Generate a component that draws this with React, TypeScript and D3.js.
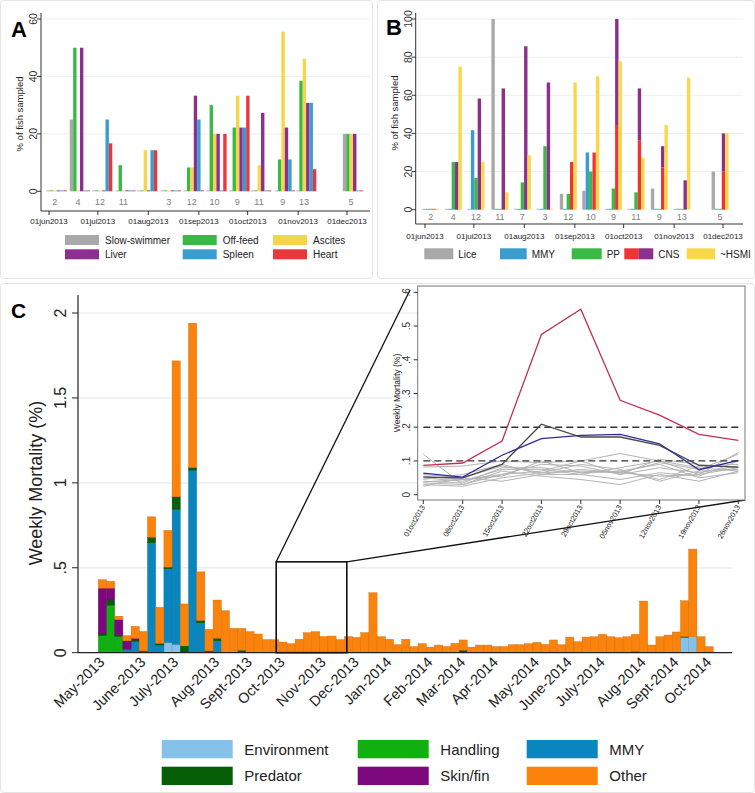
import React from 'react';
import * as d3 from 'd3';

const FONT = '"Liberation Sans", Arial, Helvetica, sans-serif';

// ---------- Panel A ----------
const aSeries = ['Slow-swimmer', 'Off-feed', 'Ascites', 'Liver', 'Spleen', 'Heart'];
const aColors = ['#a9a9a9', '#3cb846', '#f5d64a', '#8c2f8e', '#3a9dcf', '#e8383d'];
const aDays = [4.7, 19, 32.6, 46.9, 60.2, 74.8, 88.9, 102.8, 116.9, 130.2, 144.8, 157.9, 186.7];
const aCounts = ['2', '4', '12', '11', '', '3', '12', '10', '9', '11', '9', '13', '5'];
const aSlow = [0, 25, 0, 0, 0, 0, 0, 0, 0, 0, 0, 0, 20];
const aOff = [0, 50, 0, 9.1, 0, 0, 8.3, 30, 22.2, 0, 11.1, 38.5, 20];
const aAsc = [0, 0, 0, 0, 14.3, 0, 8.3, 20, 33.3, 9.1, 55.6, 46.2, 20];
const aLiver = [0, 50, 0, 0, 0, 0, 33.3, 20, 22.2, 27.3, 22.2, 30.8, 20];
const aSpleen = [0, 0, 25, 0, 14.3, 0, 25, 0, 22.2, 0, 11.1, 30.8, 0];
const aHeart = [0, 0, 16.7, 0, 14.3, 0, 0, 20, 33.3, 0, 0, 7.7, 0];

// ---------- Panel B ----------
const bDays = [3.5, 17.4, 31.3, 46, 59.8, 73.7, 88, 101.8, 115.7, 129.6, 143.9, 157.7, 181.2];
const bCounts = ['2', '4', '12', '11', '7', '3', '12', '10', '9', '11', '9', '13', '5'];
const bLice = [0, 0, 0, 100, 0, 0, 8.3, 10, 0, 0, 11.1, 0, 20];
const bMMY = [0, 0, 41.7, 0, 0, 0, 0, 30, 0, 0, 0, 0, 0];
const bPP = [0, 25, 16.7, 0, 14.3, 33.3, 8.3, 20, 11.1, 9.1, 0, 0, 0];
const bCNSred = [0, 0, 0, 0, 0, 0, 25, 30, 44.4, 36.4, 22.2, 0, 20];
const bCNStotal = [0, 25, 58.3, 63.6, 85.7, 66.7, 25, 30, 100, 63.6, 33.3, 15.4, 40];
const bHSMI = [0, 75, 25, 9.1, 28.6, 0, 66.7, 70, 77.8, 27.3, 44.4, 69.2, 40];
const bColors = { lice: '#a9a9a9', mmy: '#3a9dcf', pp: '#3cb846', cnsRed: '#ee3434', cnsPurple: '#8c2f8e', hsmi: '#f8d84a' };

const monthDays = [0, 30, 61, 92, 122, 153, 183];
const monthLabels = ['01jun2013', '01jul2013', '01aug2013', '01sep2013', '01oct2013', '01nov2013', '01dec2013'];

// ---------- Panel C ----------
const cKeys = ['Environment', 'Handling', 'MMY', 'Predator', 'Skin/fin', 'Other'];
const cColors = ['#86c1ea', '#10b010', '#0a86bf', '#065f06', '#7d087d', '#fb830b'];
const envVals = [0,0,0,0,0,0,0,0,0.06,0.05,0,0,0,0,0,0,0,0,0,0,0,0,0,0,0,0,0,0,0,0,0,0,0,0,0,0,0,0,0,0,0,0,0,0,0,0,0,0,0,0,0,0,0,0,0,0,0,0,0,0,0,0,0,0,0,0,0,0,0,0,0,0.09,0.094,0,0];
const handVals = [0.10,0.28,0.095,0,0,0,0,0,0,0,0,0,0,0,0,0,0,0,0,0,0,0,0,0,0,0,0,0,0,0,0,0,0,0,0,0,0,0,0,0,0,0,0,0,0,0,0,0,0,0,0,0,0,0,0,0,0,0,0,0,0,0,0,0,0,0,0,0,0,0,0,0,0,0,0];
const mmyVals = [0,0,0,0.02,0.065,0,0.647,0.045,0.434,0.793,0,1.075,0.176,0,0.07,0,0,0.005,0,0,0,0,0,0,0,0,0,0,0,0,0,0,0,0,0,0,0,0,0,0,0,0,0,0,0,0,0,0,0,0,0,0,0,0,0,0,0,0,0,0,0,0,0,0,0,0,0,0,0,0,0,0,0,0,0];
const predVals = [0.01,0.03,0.01,0,0.01,0.01,0.033,0.01,0.01,0.075,0.04,0.015,0.014,0.01,0.015,0,0,0.01,0,0,0,0,0,0,0,0,0,0,0,0,0,0,0,0,0,0,0,0,0,0,0,0,0,0,0.015,0,0,0,0,0,0,0,0,0,0,0.005,0,0,0,0,0,0,0,0,0,0.008,0,0,0,0,0,0.005,0,0,0];
const skinVals = [0.27,0.07,0.09,0.05,0.01,0,0,0,0,0,0,0,0,0,0,0,0,0,0,0,0,0,0,0,0,0,0,0,0,0,0,0,0,0,0,0,0,0,0,0,0,0,0,0,0,0,0,0,0,0,0,0,0,0,0,0,0,0,0,0,0,0,0,0,0,0,0,0,0,0,0,0,0,0,0];
const otherVals = [0.05,0.04,0.02,0.03,0.07,0.115,0.12,0.212,0.216,0.80,0.247,0.85,0.286,0.127,0.225,0.247,0.143,0.128,0.124,0.11,0.077,0.077,0.063,0.053,0.079,0.118,0.124,0.095,0.098,0.077,0.095,0.09,0.118,0.353,0.094,0.079,0.047,0.079,0.036,0.053,0.033,0.045,0.036,0.055,0.06,0.033,0.045,0.045,0.036,0.036,0.047,0.047,0.053,0.061,0.049,0.07,0.047,0.092,0.065,0.092,0.094,0.108,0.094,0.088,0.094,0.1,0.304,0.045,0.094,0.104,0.122,0.211,0.516,0.094,0.036];
const cTickIdx = [0, 5, 9, 14, 18, 22, 27, 31, 35, 40, 44, 48, 53, 57, 61, 66, 70, 74];
const cTickLabels = ['May-2013', 'June-2013', 'July-2013', 'Aug-2013', 'Sept-2013', 'Oct-2013', 'Nov-2013', 'Dec-2013', 'Jan-2014', 'Feb-2014', 'Mar-2014', 'Apr-2014', 'May-2014', 'June-2014', 'July-2014', 'Aug-2014', 'Sept-2014', 'Oct-2014'];
const cYTicks = [0, 0.5, 1, 1.5, 2];
const cYLabels = ['0', '.5', '1', '1.5', '2'];
const zoomStart = 22, zoomEnd = 29;

// ---------- Inset ----------
const insetDates = ['01oct2013', '08oct2013', '15oct2013', '22oct2013', '29oct2013', '05nov2013', '12nov2013', '19nov2013', '26nov2013'];
const insetRed = [0.087, 0.094, 0.159, 0.475, 0.55, 0.28, 0.236, 0.179, 0.161];
const insetBlue = [0.064, 0.052, 0.117, 0.166, 0.176, 0.179, 0.151, 0.074, 0.102];
const insetDark = [0.052, 0.05, 0.09, 0.209, 0.171, 0.171, 0.146, 0.087, 0.082];
const insetGrey = [
  [0.12, 0.03, 0.06, 0.07, 0.10, 0.122, 0.10, 0.06, 0.125],
  [0.082, 0.085, 0.10, 0.095, 0.10, 0.06, 0.105, 0.09, 0.08],
  [0.045, 0.06, 0.09, 0.06, 0.075, 0.065, 0.095, 0.075, 0.12],
  [0.04, 0.035, 0.08, 0.08, 0.065, 0.07, 0.045, 0.085, 0.09],
  [0.035, 0.03, 0.07, 0.055, 0.045, 0.03, 0.06, 0.04, 0.07],
  [0.03, 0.025, 0.05, 0.065, 0.09, 0.075, 0.04, 0.07, 0.075],
  [0.055, 0.045, 0.06, 0.09, 0.085, 0.06, 0.08, 0.065, 0.085],
  [0.05, 0.04, 0.075, 0.075, 0.06, 0.08, 0.1, 0.08, 0.07],
  [0.025, 0.05, 0.04, 0.06, 0.06, 0.045, 0.065, 0.055, 0.1],
  [0.038, 0.045, 0.055, 0.1, 0.065, 0.07, 0.09, 0.05, 0.065],
  [0.06, 0.05, 0.085, 0.065, 0.07, 0.065, 0.055, 0.06, 0.08],
];
const insetYTicks = [0, 0.1, 0.2, 0.3, 0.4, 0.5, 0.6];
const insetYLabels = ['0', '.1', '.2', '.3', '.4', '.5', '.6'];
const insetRefLines = [0.1, 0.2];

function PanelA() {
  const x = d3.scaleLinear().domain([0, 183]).range([49, 347]);
  const y = d3.scaleLinear().domain([0, 60]).range([191.3, 19]);
  const bw = 3.4;
  const vals = [aSlow, aOff, aAsc, aLiver, aSpleen, aHeart];
  const axisY = 211;
  const left = 41, right = 370;
  return (
    <g>
      <rect x={0.5} y={0.5} width={372} height={278} fill="white" stroke="#e4e4e4" rx={3} />
      {[20, 40, 60].map(t => <line key={t} x1={left} x2={right} y1={y(t)} y2={y(t)} stroke="#eaf0f1" strokeWidth={1} />)}
      {aDays.map((d, g) => vals.map((arr, k) => {
        const v = arr[g];
        const bx = x(d) - 3 * bw + k * bw;
        const h = Math.max(y(0) - y(v), 0.9);
        return <rect key={g + '-' + k} x={bx} y={y(0) - h} width={bw} height={h} fill={aColors[k]} />;
      }))}
      <line x1={left} x2={left} y1={13} y2={axisY} stroke="#333" />
      <line x1={left} x2={right} y1={axisY} y2={axisY} stroke="#333" />
      {[0, 20, 40, 60].map(t => (
        <g key={t}>
          <line x1={left - 4} x2={left} y1={y(t)} y2={y(t)} stroke="#333" />
          <text transform={`translate(37,${y(t)}) rotate(-90)`} textAnchor="middle" fontSize={10.5} fill="#333">{t}</text>
        </g>
      ))}
      <text transform={`translate(23,114) rotate(-90)`} textAnchor="middle" fontSize={9.5} fill="#222">% of fish sampled</text>
      {monthDays.map((d, i) => (
        <g key={i}>
          <line x1={x(d)} x2={x(d)} y1={axisY} y2={axisY + 4} stroke="#333" />
          <text x={x(d)} y={224} textAnchor="middle" fontSize={8} fill="#222">{monthLabels[i]}</text>
        </g>
      ))}
      {aDays.map((d, g) => <text key={g} x={x(d) - 2} y={204.5} textAnchor="middle" fontSize={9} fill="#808080">{aCounts[g]}</text>)}
      <text x={11} y={37} fontSize={22} fontWeight="bold" fill="#000">A</text>
      {aSeries.map((s, i) => {
        const col = i % 3, row = Math.floor(i / 3);
        const sx = [65, 182.7, 273][col];
        const sy = 235 + row * 14.3;
        return (
          <g key={s}>
            <rect x={sx} y={sy} width={34} height={10} fill={aColors[i]} />
            <text x={sx + 40} y={sy + 9} fontSize={10} fill="#222">{s}</text>
          </g>
        );
      })}
    </g>
  );
}

function PanelB() {
  const x = d3.scaleLinear().domain([0, 183]).range([425, 723]);
  const y = d3.scaleLinear().domain([0, 100]).range([209.7, 19]);
  const bw = 3.4;
  const axisY = 224;
  const left = 415.7, right = 743;
  const bar = (key: string, bx: number, v0: number, v1: number, color: string, stub = true) => {
    const h = Math.max(y(v0) - y(v1), stub ? 0.9 : 0);
    return <rect key={key} x={bx} y={y(v0) - h} width={bw} height={h} fill={color} />;
  };
  const legend = [
    { label: 'Lice', x: 424.3, w: 29, colors: [bColors.lice] },
    { label: 'MMY', x: 500, w: 26.7, colors: [bColors.mmy] },
    { label: 'PP', x: 571.7, w: 30, colors: [bColors.pp] },
    { label: 'CNS', x: 624.3, w: 29, colors: [bColors.cnsRed, bColors.cnsPurple] },
    { label: '~HSMI', x: 686.7, w: 28.3, colors: [bColors.hsmi] },
  ];
  return (
    <g>
      <rect x={377.5} y={0.5} width={377} height={278} fill="white" stroke="#e4e4e4" rx={3} />
      {[20, 40, 60, 80, 100].map(t => <line key={t} x1={left} x2={right} y1={y(t)} y2={y(t)} stroke="#eaf0f1" strokeWidth={1} />)}
      {bDays.map((d, g) => {
        const x0 = x(d) - 2.5 * bw;
        return (
          <g key={g}>
            {bar('l' + g, x0, 0, bLice[g], bColors.lice)}
            {bar('m' + g, x0 + bw, 0, bMMY[g], bColors.mmy)}
            {bar('p' + g, x0 + 2 * bw, 0, bPP[g], bColors.pp)}
            {bCNSred[g] > 0 ? bar('cr' + g, x0 + 3 * bw, 0, bCNSred[g], bColors.cnsRed) : null}
            {bCNStotal[g] > bCNSred[g] ? bar('cp' + g, x0 + 3 * bw, bCNSred[g], bCNStotal[g], bColors.cnsPurple, false) : null}
            {bCNStotal[g] === 0 ? bar('cz' + g, x0 + 3 * bw, 0, 0, bColors.cnsRed) : null}
            {bar('h' + g, x0 + 4 * bw, 0, bHSMI[g], bColors.hsmi)}
          </g>
        );
      })}
      <line x1={left} x2={left} y1={13} y2={axisY} stroke="#333" />
      <line x1={left} x2={right} y1={axisY} y2={axisY} stroke="#333" />
      {[0, 20, 40, 60, 80, 100].map(t => (
        <g key={t}>
          <line x1={left - 4} x2={left} y1={y(t)} y2={y(t)} stroke="#333" />
          <text transform={`translate(412,${y(t)}) rotate(-90)`} textAnchor="middle" fontSize={10.5} fill="#333">{t}</text>
        </g>
      ))}
      <text transform={`translate(398,113) rotate(-90)`} textAnchor="middle" fontSize={9.5} fill="#222">% of fish sampled</text>
      {monthDays.map((d, i) => (
        <g key={i}>
          <line x1={x(d)} x2={x(d)} y1={axisY} y2={axisY + 4} stroke="#333" />
          <text x={x(d)} y={239} textAnchor="middle" fontSize={8} fill="#222">{monthLabels[i]}</text>
        </g>
      ))}
      {bDays.map((d, g) => <text key={g} x={x(d)} y={219.5} textAnchor="middle" fontSize={9} fill="#808080">{bCounts[g]}</text>)}
      <text x={386} y={35} fontSize={22} fontWeight="bold" fill="#000">B</text>
      {legend.map(l => (
        <g key={l.label}>
          {l.colors.map((c, j) => <rect key={j} x={l.x + j * l.w / l.colors.length} y={248.3} width={l.w / l.colors.length} height={11} fill={c} />)}
          <text x={l.x + l.w + 5} y={257.5} fontSize={10} fill="#222">{l.label}</text>
        </g>
      ))}
    </g>
  );
}

function PanelC() {
  const n = otherVals.length;
  const rows = d3.range(n).map(i => ({
    Environment: envVals[i], Handling: handVals[i], MMY: mmyVals[i],
    Predator: predVals[i], 'Skin/fin': skinVals[i], Other: otherVals[i],
  }));
  const stack = d3.stack<any>().keys(cKeys)(rows);
  const x = d3.scaleBand<number>().domain(d3.range(n)).range([98.3, 98.3 + 8.2 * n]).paddingInner(0);
  const y = d3.scaleLinear().domain([0, 2]).range([652.7, 313]);
  const left = 78, right = 732;
  // inset scales
  const xi = d3.scalePoint<string>().domain(insetDates).range([423.3, 738.3]);
  const yi = d3.scaleLinear().domain([0, 0.6]).range([494.7, 292.3]);
  const line = d3.line<number>().x((_, i) => xi(insetDates[i]) as number).y(v => yi(v));
  const boxX0 = (x(zoomStart) as number) - 2.5;
  const boxX1 = (x(zoomEnd) as number) + x.bandwidth() + 2.5;
  const boxTop = y(0.535);
  const inset = { x0: 417.7, x1: 745, y0: 286, y1: 500 };
  return (
    <g>
      <rect x={0.5} y={283.5} width={754} height={509} fill="white" stroke="#e4e4e4" rx={3} />
      {cYTicks.filter(t => t > 0).map(t => <line key={t} x1={left + 1} x2={right} y1={y(t)} y2={y(t)} stroke="#e3ecef" strokeWidth={1.2} />)}
      {stack.map((s, k) => (
        <g key={cKeys[k]}>
          {s.map((d, i) => {
            const h = y(d[0]) - y(d[1]);
            if (h <= 0) return null;
            return <rect key={i} x={x(i)} y={y(d[1])} width={x.bandwidth()} height={h} fill={cColors[k]}
              stroke={d3.color(cColors[k])!.darker(0.6).toString()} strokeWidth={0.4} />;
          })}
        </g>
      ))}
      <line x1={left} x2={left} y1={295} y2={y(0)} stroke="#222" strokeWidth={1.2} />
      <line x1={left} x2={right} y1={y(0)} y2={y(0)} stroke="#222" strokeWidth={1.2} />
      {cYTicks.map((t, i) => (
        <g key={t}>
          <line x1={72} x2={left} y1={y(t)} y2={y(t)} stroke="#222" />
          <text transform={`translate(66,${y(t)}) rotate(-90)`} textAnchor="middle" fontSize={16} fill="#222">{cYLabels[i]}</text>
        </g>
      ))}
      <text transform={`translate(42,483) rotate(-90)`} textAnchor="middle" fontSize={18} fill="#222">Weekly Mortality (%)</text>
      {cTickIdx.map((idx, i) => {
        const cx = (x(idx) as number) + x.bandwidth() / 2;
        return <text key={i} transform={`translate(${cx + 3},${663}) rotate(-45)`} textAnchor="end" fontSize={14.5} fill="#222">{cTickLabels[i]}</text>;
      })}
      <text x={11} y={318} fontSize={21} fontWeight="bold" fill="#000">C</text>
      {/* zoom box and connectors */}
      <rect x={boxX0} y={boxTop} width={boxX1 - boxX0} height={y(0) - boxTop} fill="none" stroke="#111" strokeWidth={1.6} />
      <line x1={boxX0} y1={boxTop} x2={410} y2={290} stroke="#111" strokeWidth={1.3} />
      <line x1={boxX1} y1={boxTop} x2={inset.x1} y2={inset.y1} stroke="#111" strokeWidth={1.3} />
      {/* inset */}
      <rect x={inset.x0} y={inset.y0} width={inset.x1 - inset.x0} height={inset.y1 - inset.y0} fill="white" stroke="#777" strokeWidth={1} />
      {insetGrey.map((g, i) => <path key={i} d={line(g) as string} fill="none" stroke="#b3b3b3" strokeWidth={1} />)}
      {insetRefLines.map(r => <line key={r} x1={xi(insetDates[0])} x2={xi(insetDates[insetDates.length - 1])} y1={yi(r)} y2={yi(r)} stroke="#333" strokeWidth={1.3} strokeDasharray="7,4" />)}
      <path d={line(insetDark) as string} fill="none" stroke="#4a4a4a" strokeWidth={1.3} />
      <path d={line(insetBlue) as string} fill="none" stroke="#2c2c9a" strokeWidth={1.3} />
      <path d={line(insetRed) as string} fill="none" stroke="#c2304f" strokeWidth={1.3} />
      {insetYTicks.map((t, i) => (
        <g key={t}>
          <line x1={inset.x0 - 4} x2={inset.x0} y1={yi(t)} y2={yi(t)} stroke="#333" />
          <text transform={`translate(409.5,${yi(t)}) rotate(-90)`} textAnchor="middle" fontSize={10} fill="#333">{insetYLabels[i]}</text>
        </g>
      ))}
      <text transform={`translate(400,393) rotate(-90)`} textAnchor="middle" fontSize={8.6} fill="#222">Weekly Mortality (%)</text>
      {insetDates.map(d => (
        <g key={d}>
          <line x1={xi(d)} x2={xi(d)} y1={inset.y1} y2={inset.y1 + 4} stroke="#333" />
          <text transform={`translate(${(xi(d) as number) + 2},${inset.y1 + 7}) rotate(-60)`} textAnchor="end" fontSize={7.5} fill="#222">{d}</text>
        </g>
      ))}
      {/* legend */}
      {cKeys.map((k, i) => {
        const col = i % 3, row = Math.floor(i / 3);
        const sx = [161.7, 357.7, 526.7][col];
        const sy = 740 + row * 26.7;
        return (
          <g key={k}>
            <rect x={sx} y={sy} width={71} height={18.3} fill={cColors[i]} />
            <text x={sx + 82.6} y={sy + 14.5} fontSize={15} fill="#222">{k}</text>
          </g>
        );
      })}
    </g>
  );
}

export default function App() {
  return (
    <svg width={755} height={793} style={{ position: 'absolute', left: 0, top: 0, fontFamily: FONT }}>
      <rect width={755} height={793} fill="white" />
      <PanelA />
      <PanelB />
      <PanelC />
    </svg>
  );
}
